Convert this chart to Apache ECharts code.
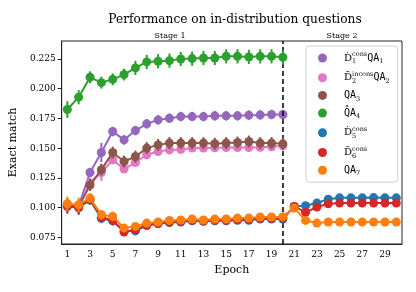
<!DOCTYPE html>
<html><head><meta charset="utf-8">
<script src="https://cdn.jsdelivr.net/npm/echarts@6/dist/echarts.min.js"></script>
<style>html,body{margin:0;padding:0;background:#fff}#c{width:416px;height:292px}</style>
</head><body><div id="c"></div>
<script>
var epochs = ['1','2','3','4','5','6','7','8','9','10','11','12','13','14','15','16','17','18','19','20','21','22','23','24','25','26','27','28','29','30'];
var yTicks = [0.075, 0.100, 0.125, 0.150, 0.175, 0.200, 0.225];

var names = ['D1consQA1','D2inconsQA2','QA3','QA4','D5cons','D6cons','QA7'];
var colors = ['#9467bd','#e377c2','#8c564b','#2ca02c','#1f77b4','#d62728','#ff7f0e'];

var d1QA1 = [0.1025,0.1015,0.1296,0.1464,0.1640,0.1570,0.1648,0.1705,0.1738,0.1752,0.1766,0.1766,0.1766,0.1772,0.1772,0.1772,0.1778,0.1780,0.1783,0.1783];
var d1QA1Err = [0.004,0.004,0.004,0.008,0.004,0.004,0.004,0.004,0.004,0.004,0.004,0.004,0.004,0.004,0.004,0.004,0.004,0.004,0.004,0.004];
var d2QA2 = [0.1020,0.1010,0.1210,0.1296,0.1403,0.1325,0.1380,0.1445,0.1472,0.1486,0.1490,0.1501,0.1501,0.1503,0.1505,0.1505,0.1505,0.1508,0.1512,0.1520];
var d2QA2Err = [0.004,0.004,0.004,0.007,0.003,0.003,0.003,0.003,0.003,0.003,0.003,0.003,0.003,0.003,0.003,0.003,0.003,0.003,0.003,0.003];
var qa3 = [0.1020,0.1010,0.1190,0.1320,0.1464,0.1388,0.1430,0.1501,0.1528,0.1543,0.1543,0.1543,0.1543,0.1538,0.1543,0.1548,0.1556,0.1543,0.1543,0.1537];
var qa3Err = [0.004,0.004,0.005,0.005,0.005,0.005,0.005,0.005,0.005,0.005,0.005,0.005,0.005,0.005,0.005,0.005,0.005,0.005,0.005,0.005];
var qa4 = [0.1825,0.1929,0.2096,0.2051,0.2079,0.2119,0.2175,0.2225,0.2231,0.2236,0.2250,0.2253,0.2258,0.2258,0.2272,0.2272,0.2267,0.2272,0.2272,0.2264];
var qa4Err = [0.007,0.006,0.005,0.005,0.005,0.005,0.006,0.006,0.006,0.006,0.006,0.006,0.006,0.006,0.006,0.006,0.006,0.006,0.006,0.006];
var d5 = [0.1010,0.1000,0.1065,0.0910,0.0890,0.0805,0.0805,0.0850,0.0865,0.0875,0.0880,0.0890,0.0885,0.0890,0.0890,0.0895,0.0895,0.0905,0.0905,0.0905,0.1010,0.1017,0.1039,0.1072,0.1083,0.1083,0.1083,0.1085,0.1083,0.1083];
var d6 = [0.1015,0.1005,0.1070,0.0920,0.0895,0.0795,0.0815,0.0855,0.0870,0.0880,0.0885,0.0895,0.0890,0.0895,0.0895,0.0900,0.0900,0.0910,0.0910,0.0913,0.1011,0.0961,0.1006,0.1033,0.1039,0.1039,0.1039,0.1039,0.1039,0.1039];
var qa7 = [0.1033,0.1025,0.1081,0.0941,0.0927,0.0830,0.0843,0.0871,0.0880,0.0893,0.0897,0.0905,0.0897,0.0905,0.0905,0.0913,0.0913,0.0922,0.0922,0.0925,0.0997,0.0893,0.0871,0.0880,0.0880,0.0880,0.0880,0.0880,0.0880,0.0880];
var lowErr = [0.006,0.006,0.004,0.004,0.004,0.003,0.002,0.002,0.002,0.002,0.002,0.002,0.002,0.002,0.002,0.002,0.002,0.002,0.002,0.002,0.002,0.002,0.002,0.002,0.002,0.002,0.002,0.002,0.002,0.002];

var allVals = [d1QA1, d2QA2, qa3, qa4, d5, d6, qa7];
var allErr = [d1QA1Err, d2QA2Err, qa3Err, qa4Err, lowErr, lowErr, lowErr];

var legendLabels = {
  'D1consQA1': '{d|Ḋ}{sb|1}{sp|cons}{m|QA}{sb2|1}',
  'D2inconsQA2': '{d|D̄}{sb|2}{sp|incons}{m|QA}{sb2|2}',
  'QA3': '{m|QA}{sb2|3}',
  'QA4': '{m|Q̂A}{sb2|4}',
  'D5cons': '{d|Ḋ}{sb|5}{sp|cons}',
  'D6cons': '{d|D̄}{sb|6}{sp|cons}',
  'QA7': '{m|QA}{sb2|7}'
};

var SERIF = 'DejaVu Serif';
var series = [];
allVals.forEach(function (vals, k) {
  var errData = vals.map(function (v, i) { return [i, v - allErr[k][i], v + allErr[k][i]]; });
  series.push({
    type: 'custom', name: names[k] + '_err', z: 2 + k * 2,
    silent: true,
    data: errData,
    renderItem: function (params, api) {
      var p1 = api.coord([api.value(0), api.value(1)]);
      var p2 = api.coord([api.value(0), api.value(2)]);
      return { type: 'line', shape: { x1: p1[0], y1: p1[1], x2: p2[0], y2: p2[1] },
        style: { stroke: colors[k], lineWidth: 2 } };
    }
  });
  series.push({
    type: 'line', name: names[k], data: vals, z: 3 + k * 2,
    symbol: 'circle', symbolSize: 9, showAllSymbol: true,
    itemStyle: { color: colors[k] }, lineStyle: { color: colors[k], width: 2 },
    emphasis: { disabled: true }
  });
});
series[series.length - 1].markLine = {
  silent: true, symbol: 'none', label: { show: false },
  lineStyle: { color: '#000', type: [5, 3], width: 1.5 },
  data: [{ xAxis: '20' }]
};

var chart = echarts.init(document.getElementById('c'), null, { renderer: 'canvas' });
chart.setOption({
  animation: false,
  backgroundColor: '#fff',
  title: {
    text: 'Performance on in-distribution questions', left: 230, top: 9, textAlign: 'center',
    textStyle: { fontFamily: SERIF, fontSize: 12.2, fontWeight: 'normal', color: '#000' }
  },
  graphic: [
    { type: 'text', x: 170, y: 36, style: { text: 'Stage 1', font: '8px "DejaVu Serif"', fill: '#000', align: 'center', verticalAlign: 'middle' } },
    { type: 'text', x: 342, y: 36, style: { text: 'Stage 2', font: '8px "DejaVu Serif"', fill: '#000', align: 'center', verticalAlign: 'middle' } }
  ],
  grid: { left: 58, right: 14, top: 41, bottom: 48, show: true, borderColor: '#222', borderWidth: 1 },
  legend: {
    data: names, orient: 'vertical', left: 306, top: 46,
    icon: 'circle', itemWidth: 9, itemHeight: 9, itemGap: 5.7,
    padding: [5, 8, 5, 12],
    backgroundColor: 'rgba(255,255,255,0.85)', borderColor: '#d0d0d0', borderWidth: 1, borderRadius: 3,
    selectedMode: false,
    formatter: function (n) { return legendLabels[n]; },
    textStyle: {
      padding: [0, 0, 0, 12], color: '#000',
      rich: {
        d: { fontFamily: SERIF, fontSize: 10, lineHeight: 14, color: '#000' },
        m: { fontFamily: 'DejaVu Sans Mono', fontSize: 10, lineHeight: 14, color: '#000' },
        sb: { fontFamily: SERIF, fontSize: 6.5, verticalAlign: 'bottom', width: 0.1, color: '#000' },
        sb2: { fontFamily: SERIF, fontSize: 6.5, verticalAlign: 'bottom', color: '#000' },
        sp: { fontFamily: SERIF, fontSize: 6.5, verticalAlign: 'top', color: '#000' }
      }
    }
  },
  xAxis: {
    type: 'category', data: epochs, boundaryGap: true,
    name: 'Epoch', nameLocation: 'middle', nameGap: 21,
    nameTextStyle: { fontFamily: SERIF, fontSize: 11, color: '#000' },
    axisLine: { lineStyle: { color: '#222', width: 1 } },
    axisTick: { alignWithLabel: true, interval: 0, length: 4, lineStyle: { color: '#222' } },
    axisLabel: { interval: 1, fontFamily: SERIF, fontSize: 9, color: '#000', margin: 6 },
    splitLine: { show: false }
  },
  yAxis: {
    type: 'value', min: 0.0695, max: 0.2401,
    name: 'Exact match', nameLocation: 'middle', nameGap: 41,
    nameTextStyle: { fontFamily: SERIF, fontSize: 11, color: '#000' },
    axisLine: { show: true, lineStyle: { color: '#222', width: 1 } },
    axisTick: { show: true, length: 4, customValues: yTicks, lineStyle: { color: '#222' } },
    axisLabel: { customValues: yTicks, fontFamily: SERIF, fontSize: 9, color: '#000', margin: 6,
      formatter: function (v) { return v.toFixed(3); } },
    splitLine: { show: false }
  },
  series: series
});
</script></body></html>
